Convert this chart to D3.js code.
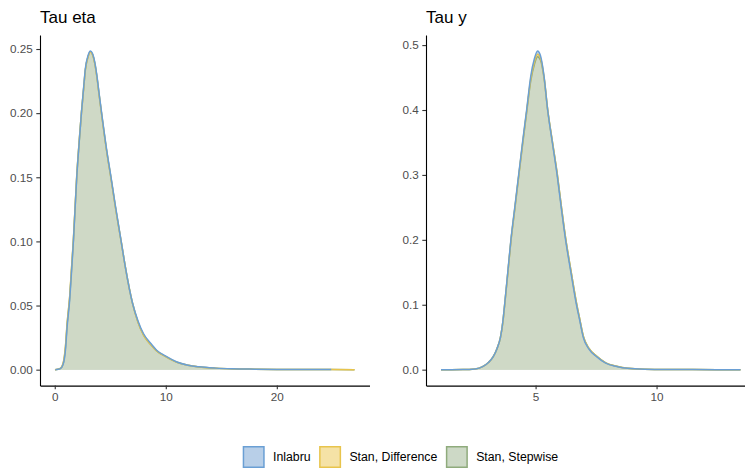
<!DOCTYPE html>
<html>
<head>
<meta charset="utf-8">
<script src="https://cdn.jsdelivr.net/npm/d3@7"></script>
<style>
  html, body { margin: 0; padding: 0; background: #fff; }
  svg { display: block; font-family: "Liberation Sans", Arial, sans-serif; }
</style>
</head>
<body>
<svg id="chart" width="745" height="469"></svg>
<script>
// ---- Series names and colours ----
const seriesNames = ["Inlabru", "Stan, Difference", "Stan, Stepwise"];
const lineColors = ["#6a9fd4", "#e8c44c", "#8fab7c"];
const fillColors = ["#b8cfe8", "#f5e2a6", "#cdd9c6"];
const fillOpacity = [1, 0.5, 0.8];

// ---- Tau eta posterior densities ----
const etaXInlabru = [0.05, 0.5, 0.75, 0.96, 1.11, 1.35, 1.5, 1.68, 1.98, 2.2, 2.4, 2.6, 2.76, 3.0, 3.21, 3.4, 3.6, 3.8, 4.0, 4.3, 4.7, 5.07, 5.46, 6.0, 6.36, 7.0, 7.5, 8.0, 8.6, 9.2, 10.0, 11.0, 12.0, 13.0, 14.5, 16.0, 18.0, 20.0, 22.5, 24.9];
const etaInlabru = [0, 0.0008, 0.004, 0.015, 0.033, 0.055, 0.075, 0.1, 0.15, 0.177, 0.2, 0.22, 0.235, 0.245, 0.2485, 0.2465, 0.24, 0.229, 0.215, 0.195, 0.17, 0.15, 0.128, 0.099, 0.08, 0.052, 0.038, 0.028, 0.021, 0.015, 0.0105, 0.006, 0.0035, 0.0022, 0.0012, 0.0007, 0.0004, 0.0002, 0.0001, 0.00005];

const etaXStan = [0.02, 0.5, 0.75, 0.96, 1.11, 1.35, 1.5, 1.68, 1.98, 2.2, 2.4, 2.6, 2.76, 3.0, 3.21, 3.4, 3.6, 3.8, 4.0, 4.3, 4.7, 5.07, 5.46, 6.0, 6.36, 7.0, 7.5, 8.0, 8.6, 9.2, 10.0, 11.0, 12.0, 13.0, 14.5, 16.0, 18.0, 20.0, 22.5, 25.0, 27.0];
const etaDifference = [0, 0.001, 0.005, 0.018, 0.036, 0.058, 0.078, 0.102, 0.151, 0.178, 0.2, 0.219, 0.234, 0.244, 0.2475, 0.2455, 0.239, 0.228, 0.214, 0.194, 0.169, 0.149, 0.127, 0.099, 0.08, 0.052, 0.037, 0.027, 0.02, 0.0145, 0.0102, 0.0058, 0.0034, 0.0021, 0.0012, 0.0007, 0.0004, 0.0002, 0.0001, 0.00005, 0.00002];
const etaStepwise = [0, 0.0009, 0.0045, 0.017, 0.035, 0.057, 0.077, 0.101, 0.151, 0.178, 0.2, 0.219, 0.234, 0.244, 0.2478, 0.2458, 0.239, 0.228, 0.214, 0.194, 0.169, 0.149, 0.127, 0.099, 0.08, 0.052, 0.037, 0.027, 0.02, 0.0145, 0.0102, 0.0058, 0.0034, 0.0021, 0.0012, 0.0007, 0.0004, 0.0002, 0.0001, 0.00005, 0.00002];

// ---- Tau y posterior densities ----
const yX = [1.09, 2.0, 2.5, 2.83, 3.05, 3.25, 3.4, 3.55, 3.65, 3.72, 3.85, 3.98, 4.14, 4.3, 4.46, 4.63, 4.8, 4.95, 5.08, 5.2, 5.35, 5.5, 5.7, 5.89, 6.06, 6.24, 6.46, 6.69, 6.83, 6.97, 7.2, 7.52, 7.9, 8.35, 8.8, 9.5, 10.5, 11.5, 12.5, 13.47];
const yInlabru = [0, 0.0001, 0.001, 0.005, 0.011, 0.02, 0.032, 0.05, 0.075, 0.1, 0.15, 0.2, 0.25, 0.3, 0.35, 0.4, 0.452, 0.479, 0.491, 0.484, 0.452, 0.4, 0.348, 0.3, 0.25, 0.2, 0.15, 0.1, 0.075, 0.05, 0.032, 0.02, 0.01, 0.005, 0.002, 0.0006, 0.0002, 0.0001, 0.00003, 0];
const yDifference = [0, 0.0001, 0.001, 0.005, 0.011, 0.02, 0.032, 0.05, 0.074, 0.099, 0.148, 0.198, 0.248, 0.298, 0.348, 0.398, 0.448, 0.474, 0.486, 0.48, 0.451, 0.401, 0.35, 0.303, 0.253, 0.203, 0.153, 0.103, 0.077, 0.052, 0.033, 0.021, 0.0105, 0.0052, 0.0021, 0.0006, 0.0002, 0.0001, 0.00003, 0];
const yStepwise = [0, 0.0001, 0.001, 0.005, 0.011, 0.02, 0.032, 0.05, 0.074, 0.099, 0.148, 0.198, 0.247, 0.297, 0.346, 0.396, 0.445, 0.47, 0.482, 0.477, 0.449, 0.4, 0.35, 0.303, 0.253, 0.203, 0.153, 0.103, 0.077, 0.052, 0.033, 0.021, 0.0105, 0.0052, 0.0021, 0.0006, 0.0002, 0.0001, 0.00003, 0];

// ---- Axis ticks ----
const etaXTicks = [0, 10, 20];
const etaYTicks = [0, 0.05, 0.10, 0.15, 0.20, 0.25];
const yXTicks = [5, 10];
const yYTicks = [0, 0.1, 0.2, 0.3, 0.4, 0.5];

const svg = d3.select("#chart");

function zip(xs, ys) { return xs.map((x, i) => ({ x, y: ys[i] })); }

function expand(ext) {
  const pad = (ext[1] - ext[0]) * 0.05;
  return [ext[0] - pad, ext[1] + pad];
}

function drawPanel(cfg) {
  const { title, left, right, top, bottom, series, xTicks, yTicks, yFmt } = cfg;
  const allX = series.flatMap(s => s.map(d => d.x));
  const allY = series.flatMap(s => s.map(d => d.y));
  const x = d3.scaleLinear().domain(expand(d3.extent(allX))).range([left, right]);
  const y = d3.scaleLinear().domain(expand([0, d3.max(allY)])).range([bottom, top]);

  const g = svg.append("g");

  const area = d3.area().x(d => x(d.x)).y0(y(0)).y1(d => y(d.y)).curve(d3.curveMonotoneX);
  const line = d3.line().x(d => x(d.x)).y(d => y(d.y)).curve(d3.curveMonotoneX);

  // filled densities
  series.forEach((s, i) => {
    g.append("path").datum(s)
      .attr("d", area)
      .attr("fill", fillColors[i])
      .attr("fill-opacity", fillOpacity[i])
      .attr("stroke", "none");
  });
  // outlines, Inlabru on top
  [2, 1, 0].forEach(i => {
    g.append("path").datum(series[i])
      .attr("d", line)
      .attr("fill", "none")
      .attr("stroke", lineColors[i])
      .attr("stroke-width", 1.5)
      .attr("stroke-linejoin", "round");
  });

  // axes
  const xAxis = d3.axisBottom(x).tickValues(xTicks).tickFormat(d3.format("d"))
    .tickSizeInner(3.7).tickSizeOuter(0).tickPadding(3.5);
  const yAxis = d3.axisLeft(y).tickValues(yTicks).tickFormat(d3.format(yFmt))
    .tickSizeInner(3.7).tickSizeOuter(0).tickPadding(3.5);

  const gx = g.append("g").attr("transform", `translate(0,${bottom})`).call(xAxis);
  const gy = g.append("g").attr("transform", `translate(${left},0)`).call(yAxis);
  [gx, gy].forEach(a => {
    a.select(".domain").attr("stroke", "#000").attr("stroke-width", 1.1);
    a.selectAll(".tick line").attr("stroke", "#333").attr("stroke-width", 1.1);
    a.selectAll(".tick text")
      .attr("fill", "#4d4d4d")
      .style("font-size", "11.7px")
      .style("font-family", "'Liberation Sans', Arial, sans-serif");
  });

  g.append("text")
    .attr("x", left)
    .attr("y", 22.7)
    .attr("fill", "#000")
    .style("font-size", "17px")
    .text(title);
}

const panelTop = 35, panelBottom = 385.6, panelWidth = 329.5;

drawPanel({
  title: "Tau eta",
  left: 40, right: 40 + panelWidth, top: panelTop, bottom: panelBottom,
  series: [zip(etaXInlabru, etaInlabru), zip(etaXStan, etaDifference), zip(etaXStan, etaStepwise)],
  xTicks: etaXTicks, yTicks: etaYTicks, yFmt: ".2f"
});

drawPanel({
  title: "Tau y",
  left: 426, right: 426 + panelWidth, top: panelTop, bottom: panelBottom,
  series: [zip(yX, yInlabru), zip(yX, yDifference), zip(yX, yStepwise)],
  xTicks: yXTicks, yTicks: yYTicks, yFmt: ".1f"
});

// legend
const legend = svg.append("g");
const keySize = 22, keyGap = 8.3, itemGap = 8.5;
let lx = 242.7;
const keyTop = 446;
seriesNames.forEach((name, i) => {
  legend.append("rect")
    .attr("x", lx + 0.75).attr("y", keyTop + 0.75)
    .attr("width", keySize - 1.5).attr("height", keySize - 1.5)
    .attr("fill", fillColors[i])
    .attr("stroke", lineColors[i])
    .attr("stroke-width", 1.5);
  const t = legend.append("text")
    .attr("x", lx + keySize + keyGap)
    .attr("y", keyTop + keySize / 2 + 4.4)
    .attr("fill", "#000")
    .style("font-size", "12.3px")
    .text(name);
  lx += keySize + keyGap + t.node().getComputedTextLength() + itemGap;
});
</script>
</body>
</html>
